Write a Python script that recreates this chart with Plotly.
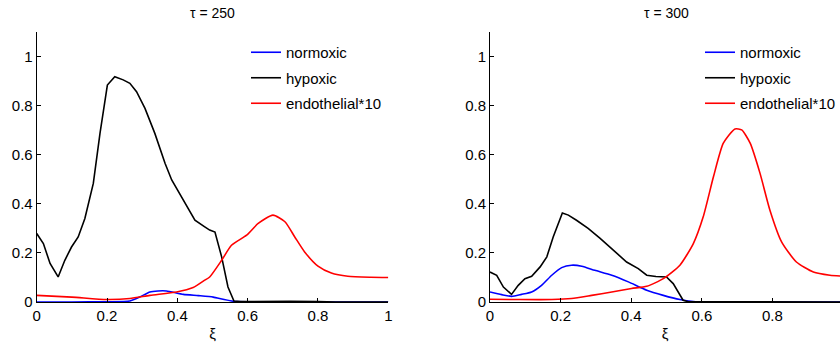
import plotly.graph_objects as go

# ---- data: tau = 250 ----
x_hyp_250 = [0.0, 0.019, 0.038, 0.061, 0.080, 0.099, 0.118, 0.137, 0.161, 0.180, 0.201, 0.222,
             0.246, 0.265, 0.284, 0.308, 0.336, 0.365, 0.384, 0.417, 0.450, 0.478, 0.492, 0.507,
             0.526, 0.544, 0.561, 0.58, 0.65, 0.72, 0.80, 0.85, 1.0]
y_hyp_250 = [0.279, 0.238, 0.157, 0.102, 0.170, 0.224, 0.265, 0.340, 0.483, 0.687, 0.884, 0.918,
             0.905, 0.891, 0.857, 0.789, 0.687, 0.565, 0.497, 0.415, 0.333, 0.306, 0.293, 0.285,
             0.184, 0.061, 0.004, 0.002, 0.003, 0.003, 0.002, 0.0, 0.0]

x_nor_250 = [0.0, 0.10, 0.20, 0.265, 0.293, 0.322, 0.345, 0.369, 0.417, 0.460, 0.502, 0.530, 0.559, 0.60, 0.80, 1.0]
y_nor_250 = [0.0, 0.0, 0.001, 0.004, 0.020, 0.041, 0.045, 0.045, 0.031, 0.026, 0.020, 0.011, 0.003, 0.001, 0.0, 0.0]

x_end_250 = [0.0, 0.10, 0.199, 0.265, 0.322, 0.398, 0.445, 0.478, 0.492, 0.526, 0.554, 0.597, 0.630,
             0.672, 0.706, 0.734, 0.762, 0.800, 0.838, 0.885, 0.95, 1.0]
y_end_250 = [0.027, 0.020, 0.010, 0.014, 0.027, 0.041, 0.059, 0.089, 0.102, 0.170, 0.231, 0.272, 0.320,
             0.354, 0.327, 0.265, 0.204, 0.146, 0.118, 0.105, 0.101, 0.100]

# ---- data: tau = 300 ----
x_hyp_300 = [0.0, 0.019, 0.038, 0.061, 0.080, 0.099, 0.118, 0.142, 0.161, 0.179, 0.205, 0.222, 0.245,
             0.278, 0.312, 0.349, 0.387, 0.420, 0.444, 0.470, 0.500, 0.519, 0.547, 0.56, 0.70, 1.0]
y_hyp_300 = [0.122, 0.109, 0.061, 0.031, 0.068, 0.095, 0.105, 0.143, 0.184, 0.265, 0.363, 0.354, 0.333,
             0.300, 0.259, 0.211, 0.163, 0.136, 0.109, 0.104, 0.102, 0.075, 0.007, 0.002, 0.002, 0.0]

x_nor_300 = [0.0, 0.033, 0.061, 0.089, 0.118, 0.146, 0.175, 0.203, 0.231, 0.260, 0.297, 0.345, 0.392,
             0.444, 0.491, 0.538, 0.576, 0.62, 1.0]
y_nor_300 = [0.041, 0.030, 0.023, 0.031, 0.041, 0.068, 0.109, 0.140, 0.150, 0.146, 0.129, 0.109, 0.082,
             0.048, 0.027, 0.010, 0.002, 0.0, 0.0]

x_end_300 = [0.0, 0.080, 0.175, 0.231, 0.288, 0.345, 0.401, 0.444, 0.491, 0.538, 0.576, 0.604, 0.633,
             0.661, 0.694, 0.713, 0.737, 0.765, 0.793, 0.826, 0.868, 0.916, 0.963, 1.0]
y_end_300 = [0.011, 0.010, 0.010, 0.014, 0.027, 0.041, 0.055, 0.064, 0.095, 0.150, 0.238, 0.347, 0.510,
             0.647, 0.705, 0.701, 0.647, 0.524, 0.374, 0.245, 0.163, 0.122, 0.109, 0.105]

names = ["normoxic", "hypoxic", "endothelial*10"]
colors = ["#0000ff", "#000000", "#ff0000"]
shapes_ = ["spline", "linear", "spline"]
titles = ["\u03c4 = 250", "\u03c4 = 300"]
xticks = [0, 0.2, 0.4, 0.6, 0.8, 1]
yticks = [0, 0.2, 0.4, 0.6, 0.8, 1]

W, H = 840, 343
T, B = 32, 41
PH = H - T - B
FONT = "Liberation Sans, Arial, sans-serif"

fig = go.Figure()
panels = [
    ([x_nor_250, x_hyp_250, x_end_250], [y_nor_250, y_hyp_250, y_end_250], "x", "y", "legend"),
    ([x_nor_300, x_hyp_300, x_end_300], [y_nor_300, y_hyp_300, y_end_300], "x2", "y2", "legend2"),
]
for xs, ys, xa, ya, lg in panels:
    for i in range(3):
        fig.add_trace(go.Scatter(x=xs[i], y=ys[i], mode="lines", name=names[i],
                                 line=dict(color=colors[i], width=1.6, shape=shapes_[i], smoothing=0.6),
                                 xaxis=xa, yaxis=ya, legend=lg, legendgroup=lg + str(i)))

axis_common = dict(showgrid=False, zeroline=False, showline=True, linecolor="black", linewidth=1,
                   ticks="inside", ticklen=4, tickcolor="black",
                   tickfont=dict(size=15, color="black", family=FONT), automargin=False)

dom_l = [36.7 / W, 388.3 / W]
dom_r = [490 / W, 1.0]
xr_right = (W - 490) / 353.0

legend_common = dict(y=1 - 4 / PH, xanchor="left", yanchor="top", yref="paper",
                     bgcolor="rgba(0,0,0,0)", font=dict(size=15), tracegroupgap=3,
                     traceorder="grouped", itemwidth=30)

fig.update_layout(
    width=W, height=H,
    margin=dict(l=0, r=0, t=T, b=B, autoexpand=False),
    paper_bgcolor="white", plot_bgcolor="white",
    font=dict(family=FONT, color="black", size=15),
    xaxis=dict(domain=dom_l, range=[0, 1], tickvals=xticks, ticktext=[str(v) for v in xticks],
               title=dict(text="\u03be", standoff=5, font=dict(size=15)), **axis_common),
    yaxis=dict(domain=[0, 1], range=[0, 1.1], tickvals=yticks, ticktext=[str(v) for v in yticks], **axis_common),
    xaxis2=dict(domain=dom_r, range=[0, xr_right], tickvals=xticks, ticktext=[str(v) for v in xticks],
                title=dict(text="\u03be", standoff=5, font=dict(size=15)), anchor="y2", **axis_common),
    yaxis2=dict(domain=[0, 1], range=[0, 1.1], tickvals=yticks, ticktext=[str(v) for v in yticks],
                anchor="x2", **axis_common),
    legend=dict(x=246 / W, **legend_common),
    legend2=dict(x=700 / W, **legend_common),
    showlegend=True,
)

fig.add_annotation(text=titles[0], xref="paper", yref="paper", x=(dom_l[0] + dom_l[1]) / 2,
                   y=1 + 19 / PH, xanchor="center", yanchor="middle", showarrow=False,
                   font=dict(size=14))
fig.add_annotation(text=titles[1], xref="paper", yref="paper", x=(490 + 843) / 2 / W,
                   y=1 + 19 / PH, xanchor="center", yanchor="middle", showarrow=False,
                   font=dict(size=14))
# tick label "1" of the right panel, which sits at the window edge
fig.add_annotation(text="1", xref="x2", yref="paper", x=1.0, y=-17.5 / PH, xanchor="center",
                   yanchor="middle", showarrow=False, font=dict(size=15))

fig.write_html("out.html")
